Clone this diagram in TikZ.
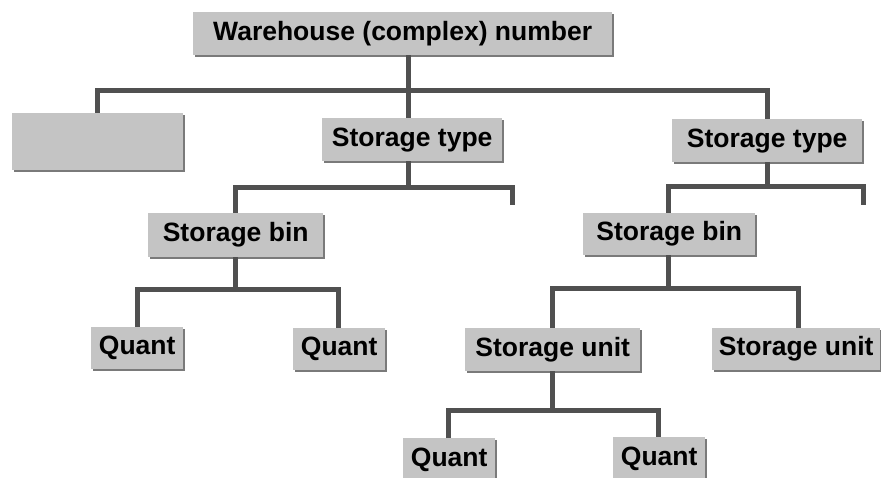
\documentclass[tikz,border=0pt]{standalone}
\usepackage{fontspec}
\setmainfont{Liberation Sans}
\usetikzlibrary{shadows}
\definecolor{boxfill}{HTML}{C4C4C4}
\definecolor{boxshade}{HTML}{7A7A7A}
\definecolor{wirecol}{HTML}{505050}
\tikzset{
  levelbox/.style={draw=none, fill=boxfill, inner sep=0pt, anchor=north west,
    font=\fontsize{26.5}{30}\selectfont\bfseries,
    general shadow={fill=boxshade, shadow xshift=1.6pt, shadow yshift=-1.6pt}},
  wire/.style={draw=wirecol, line width=5pt, line join=miter}
}
% place a box by its top-left corner and its size
\newcommand{\levelbox}[6]{\node[levelbox, minimum width=#4pt, minimum height=#5pt] (#1) at (#2,#3) {#6};}
\begin{document}
\begin{tikzpicture}[x=1pt,y=-1pt]
\useasboundingbox (0,0) rectangle (881,478);
\clip (0,0) rectangle (881,478);
\fill[white] (0,0) rectangle (881,478);

% boxes
\levelbox{wh}{193}{12}{419}{43}{Warehouse (complex) number}
\levelbox{blank}{12}{113}{171}{57}{}
\levelbox{stA}{322}{118}{180}{43}{Storage type}
\levelbox{stB}{672}{119}{190}{43}{Storage type}
\levelbox{sbA}{148}{213}{175}{44}{Storage bin}
\levelbox{sbB}{583}{213}{172}{42}{Storage bin}
\levelbox{qA}{91}{327}{92}{42}{Quant}
\levelbox{qB}{293}{328}{92}{42}{Quant}
\levelbox{suA}{465}{328}{175}{43}{Storage unit}
\levelbox{suB}{712}{328}{168}{42}{Storage unit}
\levelbox{qC}{403}{438}{92}{44}{Quant}
\levelbox{qD}{613}{437}{92}{44}{Quant}

% bus junctions
\coordinate (j0) at (408,91);
\coordinate (j1) at (408,188);
\coordinate (j1e) at (512,205);
\coordinate (j2) at (767,187);
\coordinate (j2e) at (863,205);
\coordinate (j3) at (235,290);
\coordinate (j4) at (668,289);
\coordinate (j5) at (552,410);

% warehouse level
\draw[wire] (wh.south -| j0) -- (j0);
\draw[wire] (blank.north -| 97,0) |- (j0) -| (stB.north -| j2);
\draw[wire] (j0) -- (stA.north -| j0);

% storage types
\draw[wire] (stA.south -| j1) -- (j1);
\draw[wire] (sbA.north -| j3) |- (j1) -| (j1e);
\draw[wire] (stB.south -| j2) -- (j2);
\draw[wire] (sbB.north -| j4) |- (j2) -| (j2e);

% storage bins
\draw[wire] (sbA.south -| j3) -- (j3);
\draw[wire] (qA.north -| 137,0) |- (j3) -| (qB.north -| 338,0);
\draw[wire] (sbB.south -| j4) -- (j4);
\draw[wire] (suA.north -| j5) |- (j4) -| (suB.north -| 798,0);

% storage unit
\draw[wire] (suA.south -| j5) -- (j5);
\draw[wire] (qC.north -| 448,0) |- (j5) -| (qD.north -| 658,0);
\end{tikzpicture}
\end{document}
